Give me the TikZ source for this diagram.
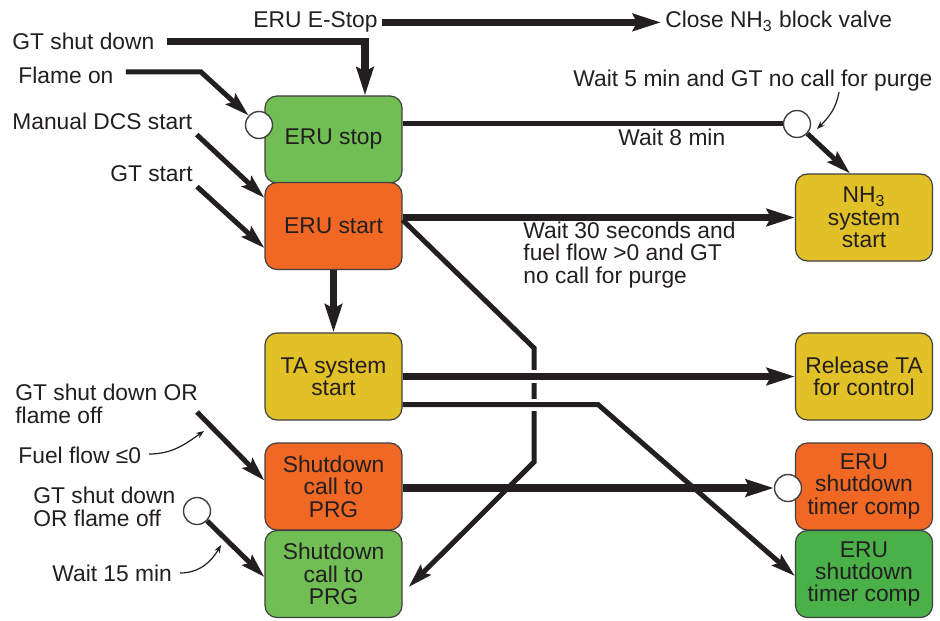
\documentclass[tikz,border=0pt]{standalone}
\usepackage{fontspec}
\setmainfont{Liberation Sans}
\usepackage{tikz}
\usetikzlibrary{arrows.meta,positioning,calc}
\definecolor{ink}{RGB}{35,31,32}
\definecolor{stopgreen}{RGB}{112,190,84}
\definecolor{runorange}{RGB}{240,104,36}
\definecolor{sysyellow}{RGB}{226,192,40}
\definecolor{timergreen}{RGB}{74,176,72}
\newcommand\lblfont{\fontsize{11.4}{11.2}\selectfont}

\begin{document}
\begin{tikzpicture}[x=0.5pt,y=-0.5pt]
  \tikzset{
    state/.style={draw=black!75, line width=0.6pt, rounded corners=6pt, minimum width=68.5pt, minimum height=43.5pt, align=center, inner sep=1pt, font=\lblfont, text=ink},
    lbl/.style={font=\lblfont, text=ink, inner sep=2pt, align=left},
    gate/.style={circle, draw=black!75, fill=white, line width=0.7pt, minimum size=13.5pt, inner sep=0pt},
    flow/.style={-{Stealth[length=14pt, width=8.5pt, inset=2pt]}, ink, line width=3.6pt},
    flowmed/.style={-{Stealth[length=12pt, width=7pt, inset=2pt]}, ink, line width=2.5pt},
    wire/.style={ink, line width=2.5pt},
    halo/.style={white, line width=6.5pt},
    note/.style={-{Stealth[length=4pt, width=3pt]}, ink, line width=0.6pt}
  }
  \useasboundingbox (0,0) rectangle (940,620);

  % column positions
  \def\xL{333.5}
  \def\xR{864}

  % states, left column
  \node[state, fill=stopgreen] (stop) at (\xL,139.5) {ERU stop};
  \node[state, fill=runorange] (start) at (\xL,226) {ERU start};
  \node[state, fill=sysyellow] (ta) at (\xL,376.5) {TA system\\start};
  \node[state, fill=runorange] (sdcall) at (\xL,486.5) {Shutdown\\call to\\PRG};
  \node[state, fill=stopgreen] (sdprg) at (\xL,574) {Shutdown\\call to\\PRG};

  % states, right column
  \node[state, fill=sysyellow] (nh) at (\xR,217.5) {NH\textsubscript{3}\\system\\start};
  \node[state, fill=sysyellow] (rel) at (\xR,376.5) {Release TA\\for control};
  \node[state, fill=runorange] (tmr) at (\xR,486.5) {ERU\\shutdown\\timer comp};
  \node[state, fill=timergreen] (tmrok) at (\xR,574) {ERU\\shutdown\\timer comp};

  % gates
  \node[gate] (g1) at (259,125) {};
  \node[gate] (g2) at (797,124) {};
  \node[gate] (g3) at (788,488) {};
  \node[gate] (g4) at (197,511) {};

  % labels (base = last line)
  \node[lbl, anchor=base east] (estop) at (382,28) {ERU E-Stop};
  \node[lbl, anchor=base west] (close) at (661,28) {Close NH\textsubscript{3} block valve};
  \node[lbl, anchor=base west] (gtsd) at (8,50) {GT shut down};
  \node[lbl, anchor=base west] (flame) at (14,84) {Flame on};
  \node[lbl, anchor=base west] (mdcs) at (8,130) {Manual DCS start};
  \node[lbl, anchor=base east] (gtstart) at (197,182) {GT start};
  \node[lbl, anchor=base west] (w5) at (569,87) {Wait 5 min and GT no call for purge};
  \node[lbl, anchor=base west] (w8) at (614,146) {Wait 8 min};
  \node[lbl, anchor=base west] (w30) at (519,283) {Wait 30 seconds and\\fuel flow >0 and GT\\no call for purge};
  \node[lbl, anchor=base west] (gtsdor) at (11,423) {GT shut down OR\\flame off};
  \node[lbl, anchor=base west] (fuel) at (14,463) {Fuel flow ≤0};
  \node[lbl, anchor=base west] (gtsdor2) at (29,526) {GT shut down\\OR flame off};
  \node[lbl, anchor=base west] (w15) at (48,581) {Wait 15 min};

  % bends and free ends
  \coordinate (bendA) at (534,348);
  \coordinate (bendB) at (534,462);
  \coordinate (taout) at ([yshift=-14pt]ta.east);
  \coordinate (tabend) at (598,404.5);
  \coordinate (sdin) at (197,412);
  \coordinate (n5a) at (839,92);
  \coordinate (n5b) at (817,129);
  \coordinate (nfa) at (149,454);
  \coordinate (nfb) at (204,431);
  \coordinate (n15a) at (180,573);
  \coordinate (n15b) at (221,545);

  % E-stop
  \draw[flow] (estop.east) -- (estop.east -| close.west);

  % inputs from the left
  \draw[flow] ([xshift=4pt]gtsd.east) -| ([xshift=15.75pt]stop.north);
  \draw[flowmed] ([xshift=4pt,yshift=2pt]flame.east) -- ++(75,0) -- (g1);
  \draw[flowmed] (mdcs.south east) -- ([yshift=-8pt]start.north west);
  \draw[flowmed] (gtstart.south east) -- ([yshift=-11pt]start.west);

  % ERU stop to NH3
  \draw[wire] (stop.east |- g2) -- (g2);
  \draw[flowmed] (g2) -- ([xshift=-7pt]nh.north);

  % ERU start outputs
  \draw[flow] (start.east |- nh.west) -- (nh.west);
  \draw[flow] (start) -- (ta);
  \draw[flowmed] ([yshift=3pt]start.east) -- (bendA) -- (bendB) -- ([xshift=3pt,yshift=-6.5pt]sdprg.east);

  % gaps where the TA lines cross
  \draw[halo] ([xshift=-6pt]bendA |- ta.east) -- ([xshift=6pt]bendA |- ta.east);
  \draw[halo, line width=6pt] ([xshift=-6pt]bendA |- taout) -- ([xshift=6pt]bendA |- taout);

  % TA outputs
  \draw[flow] (ta.east |- rel.west) -- (rel.west);
  \draw[flowmed] (taout) -- (tabend) -- ([yshift=-1pt]tmrok.west);

  % shutdown paths
  \draw[flow] (sdcall.east |- g3) -- (g3);
  \draw[flowmed] (sdin) -- ([yshift=3pt]sdcall.west);
  \draw[flowmed] (g4) -- ([yshift=-1.5pt]sdprg.west);

  % notes
  \draw[note] (n5a) to[out=-100,in=45] (n5b);
  \draw[note] (nfa) to[out=0,in=-145] (nfb);
  \draw[note] (n15a) to[out=0,in=-120] (n15b);

\end{tikzpicture}
\end{document}
